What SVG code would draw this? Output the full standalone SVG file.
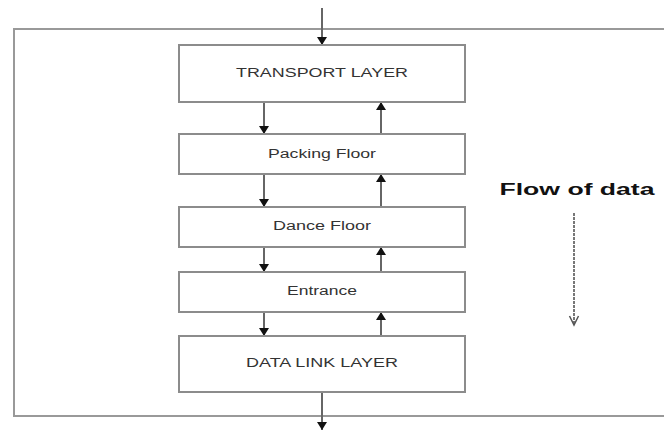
<svg xmlns="http://www.w3.org/2000/svg" width="664" height="430" viewBox="0 0 664 430">
<style>
.box{fill:#fff;stroke:#8c8c8c;stroke-width:2}
.lbl{font-family:"Liberation Sans",Arial,sans-serif;font-size:12.5px;fill:#333;text-anchor:middle}
.ar{stroke:#666;stroke-width:2;fill:none;marker-end:url(#ah)}
</style>
<defs>
<marker id="ah" viewBox="0 0 8 10" refX="8" refY="5" markerWidth="8" markerHeight="10" markerUnits="userSpaceOnUse" orient="auto">
<path d="M0,0 L8,5 L0,10 z" fill="#111"/>
</marker>
</defs>
<rect width="664" height="430" fill="#fff"/>
<g id="frame"><rect x="14" y="29" width="700" height="387" fill="none" stroke="#999" stroke-width="2"/></g>
<g id="connectors">
<line class="ar" x1="322" y1="8" x2="322" y2="45"/>
<line class="ar" x1="264" y1="102" x2="264" y2="134"/>
<line class="ar" x1="381" y1="134" x2="381" y2="102"/>
<line class="ar" x1="264" y1="174" x2="264" y2="207"/>
<line class="ar" x1="381" y1="207" x2="381" y2="174"/>
<line class="ar" x1="264" y1="247" x2="264" y2="272"/>
<line class="ar" x1="381" y1="272" x2="381" y2="247"/>
<line class="ar" x1="264" y1="312" x2="264" y2="336"/>
<line class="ar" x1="381" y1="336" x2="381" y2="312"/>
<line class="ar" x1="322" y1="392" x2="322" y2="430"/>
<line x1="574" y1="213" x2="574" y2="324" stroke="#777" stroke-width="2" stroke-dasharray="3,1"/>
<path d="M569.5,316 L574,325 L578.5,316" fill="none" stroke="#555" stroke-width="1.5"/>
</g>
<g id="transport"><rect class="box" x="179" y="45" width="286" height="57"/><text class="lbl" x="322" y="77" textLength="172" lengthAdjust="spacingAndGlyphs">TRANSPORT LAYER</text></g>
<g id="packing"><rect class="box" x="179" y="134" width="286" height="40"/><text class="lbl" x="322" y="158" textLength="108" lengthAdjust="spacingAndGlyphs">Packing Floor</text></g>
<g id="dance"><rect class="box" x="179" y="207" width="286" height="40"/><text class="lbl" x="322" y="230" textLength="98" lengthAdjust="spacingAndGlyphs">Dance Floor</text></g>
<g id="entrance"><rect class="box" x="179" y="272" width="286" height="40"/><text class="lbl" x="322" y="295" textLength="70" lengthAdjust="spacingAndGlyphs">Entrance</text></g>
<g id="datalink"><rect class="box" x="179" y="336" width="286" height="56"/><text class="lbl" x="322" y="367" textLength="152" lengthAdjust="spacingAndGlyphs">DATA LINK LAYER</text></g>
<g id="flow"><text x="577" y="195" font-family="'Liberation Sans',Arial,sans-serif" font-weight="bold" font-size="16px" fill="#111" text-anchor="middle" textLength="155" lengthAdjust="spacingAndGlyphs">Flow of data</text></g>
</svg>
